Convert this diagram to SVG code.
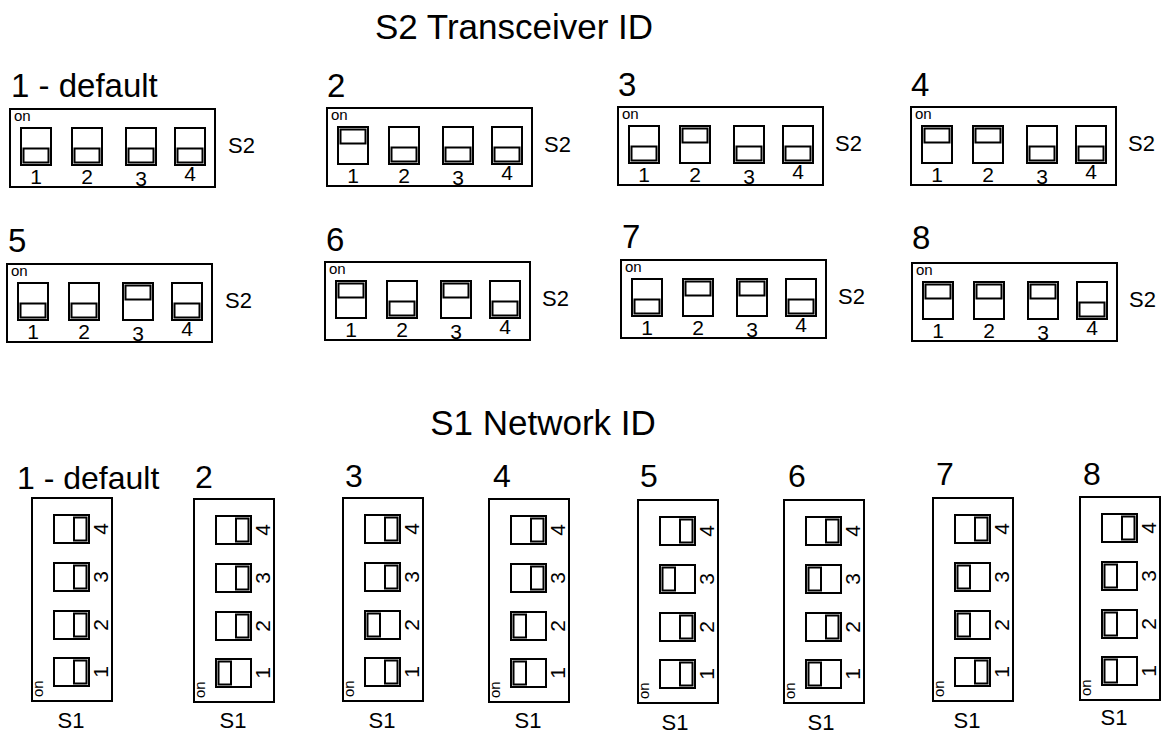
<svg xmlns="http://www.w3.org/2000/svg" xmlns:xlink="http://www.w3.org/1999/xlink" width="1170" height="736" viewBox="0 0 1170 736">
<style>
text{font-family:"Liberation Sans",Arial,Helvetica,sans-serif;fill:#000}
.title{font-size:35px}
.lbl{font-size:32px}
.lbl2{font-size:33px}
.sid{font-size:22px}
.dig{font-size:21px;text-anchor:middle}
.on{font-size:15px}
.box{fill:none;stroke:#000;stroke-width:2}
.sw{fill:#fff;stroke:#000;stroke-width:2}
.sl{fill:none;stroke:#000;stroke-width:2}
</style>
<defs>
<g id="s2off"><rect class="sw" width="30" height="37"/><rect class="sl" x="2.5" y="20.5" width="25" height="14"/></g>
<g id="s2on"><rect class="sw" width="30" height="37"/><rect class="sl" x="2.5" y="2.5" width="25" height="14"/></g>
<g id="s1off"><rect class="sw" width="35" height="28"/><rect class="sl" x="20" y="2.5" width="12.5" height="23"/></g>
<g id="s1on"><rect class="sw" width="35" height="28"/><rect class="sl" x="2.5" y="2.5" width="12.5" height="23"/></g>
<g id="s2dig">
<text class="dig" x="26" y="74.5">1</text><text class="dig" x="77" y="74.5">2</text><text class="dig" x="131" y="77">3</text><text class="dig" x="180" y="71.5">4</text>
<text class="on" x="4" y="12">on</text>
</g>
<g id="s1dig">
<text class="dig" transform="translate(75.5,31) rotate(-90)">4</text>
<text class="dig" transform="translate(75.5,79) rotate(-90)">3</text>
<text class="dig" transform="translate(75.5,127) rotate(-90)">2</text>
<text class="dig" transform="translate(75.5,174) rotate(-90)">1</text>
<text class="on" transform="translate(11,199) rotate(-90)">on</text>
</g>
</defs>

<text id="title-s2" class="title" x="514" y="39" text-anchor="middle">S2 Transceiver ID</text>
<text id="title-s1" class="title" x="543" y="435" text-anchor="middle">S1 Network ID</text>

<g id="connectors"/>

<!-- S2 panels -->
<g id="s2-p1" transform="translate(10,109)">
<text class="lbl2" x="1" y="-12">1 - default</text>
<rect class="box" width="205" height="78"/>
<use href="#s2off" x="11" y="19"/><use href="#s2off" x="62" y="19"/><use href="#s2off" x="116" y="19"/><use href="#s2off" x="165" y="19"/>
<use href="#s2dig"/>
<text class="sid" x="218" y="44">S2</text>
</g>
<g id="s2-p2" transform="translate(327,108)">
<text class="lbl2" x="0" y="-11">2</text>
<rect class="box" width="205" height="78"/>
<use href="#s2on" x="11" y="19"/><use href="#s2off" x="62" y="19"/><use href="#s2off" x="116" y="19"/><use href="#s2off" x="165" y="19"/>
<use href="#s2dig"/>
<text class="sid" x="217" y="44">S2</text>
</g>
<g id="s2-p3" transform="translate(618,107)">
<text class="lbl2" x="0" y="-11">3</text>
<rect class="box" width="205" height="78"/>
<use href="#s2off" x="11" y="19"/><use href="#s2on" x="62" y="19"/><use href="#s2off" x="116" y="19"/><use href="#s2off" x="165" y="19"/>
<use href="#s2dig"/>
<text class="sid" x="217" y="44">S2</text>
</g>
<g id="s2-p4" transform="translate(911,107)">
<text class="lbl2" x="0" y="-11">4</text>
<rect class="box" width="205" height="78"/>
<use href="#s2on" x="11" y="19"/><use href="#s2on" x="62" y="19"/><use href="#s2off" x="116" y="19"/><use href="#s2off" x="165" y="19"/>
<use href="#s2dig"/>
<text class="sid" x="217" y="44">S2</text>
</g>
<g id="s2-p5" transform="translate(7,264)">
<text class="lbl2" x="1" y="-12">5</text>
<rect class="box" width="205" height="78"/>
<use href="#s2off" x="11" y="19"/><use href="#s2off" x="62" y="19"/><use href="#s2on" x="116" y="19"/><use href="#s2off" x="165" y="19"/>
<use href="#s2dig"/>
<text class="sid" x="218" y="44">S2</text>
</g>
<g id="s2-p6" transform="translate(325,262)">
<text class="lbl2" x="1" y="-11">6</text>
<rect class="box" width="205" height="78"/>
<use href="#s2on" x="11" y="19"/><use href="#s2off" x="62" y="19"/><use href="#s2on" x="116" y="19"/><use href="#s2off" x="165" y="19"/>
<use href="#s2dig"/>
<text class="sid" x="217" y="44">S2</text>
</g>
<g id="s2-p7" transform="translate(621,260)">
<text class="lbl2" x="1" y="-12">7</text>
<rect class="box" width="205" height="78"/>
<use href="#s2off" x="11" y="19"/><use href="#s2on" x="62" y="19"/><use href="#s2on" x="116" y="19"/><use href="#s2off" x="165" y="19"/>
<use href="#s2dig"/>
<text class="sid" x="217" y="44">S2</text>
</g>
<g id="s2-p8" transform="translate(912,263)">
<text class="lbl2" x="0" y="-14">8</text>
<rect class="box" width="205" height="78"/>
<use href="#s2on" x="11" y="19"/><use href="#s2on" x="62" y="19"/><use href="#s2on" x="116" y="19"/><use href="#s2off" x="165" y="19"/>
<use href="#s2dig"/>
<text class="sid" x="217" y="44">S2</text>
</g>

<!-- S1 panels -->
<g id="s1-p1" transform="translate(32,498)">
<text class="lbl" x="-15" y="-9">1 - default</text>
<rect class="box" width="80" height="203"/>
<use href="#s1off" x="22" y="17"/><use href="#s1off" x="22" y="65"/><use href="#s1off" x="22" y="113"/><use href="#s1off" x="22" y="160"/>
<use href="#s1dig"/>
<text class="sid" x="39" y="230" text-anchor="middle">S1</text>
</g>
<g id="s1-p2" transform="translate(194,499)">
<text class="lbl" x="1" y="-11">2</text>
<rect class="box" width="80" height="203"/>
<use href="#s1off" x="22" y="17"/><use href="#s1off" x="22" y="65"/><use href="#s1off" x="22" y="113"/><use href="#s1on" x="22" y="160"/>
<use href="#s1dig"/>
<text class="sid" x="39" y="229" text-anchor="middle">S1</text>
</g>
<g id="s1-p3" transform="translate(343,498)">
<text class="lbl" x="2" y="-11">3</text>
<rect class="box" width="80" height="203"/>
<use href="#s1off" x="22" y="17"/><use href="#s1off" x="22" y="65"/><use href="#s1on" x="22" y="113"/><use href="#s1off" x="22" y="160"/>
<use href="#s1dig"/>
<text class="sid" x="39" y="230" text-anchor="middle">S1</text>
</g>
<g id="s1-p4" transform="translate(489,499)">
<text class="lbl" x="4" y="-12">4</text>
<rect class="box" width="80" height="203"/>
<use href="#s1off" x="22" y="17"/><use href="#s1off" x="22" y="65"/><use href="#s1on" x="22" y="113"/><use href="#s1on" x="22" y="160"/>
<use href="#s1dig"/>
<text class="sid" x="39" y="229" text-anchor="middle">S1</text>
</g>
<g id="s1-p5" transform="translate(638,500)">
<text class="lbl" x="2" y="-13">5</text>
<rect class="box" width="80" height="203"/>
<use href="#s1off" x="22" y="17"/><use href="#s1on" x="22" y="65"/><use href="#s1off" x="22" y="113"/><use href="#s1off" x="22" y="160"/>
<use href="#s1dig"/>
<text class="sid" x="37" y="230" text-anchor="middle">S1</text>
</g>
<g id="s1-p6" transform="translate(784,500)">
<text class="lbl" x="4" y="-13">6</text>
<rect class="box" width="80" height="203"/>
<use href="#s1off" x="22" y="17"/><use href="#s1on" x="22" y="65"/><use href="#s1off" x="22" y="113"/><use href="#s1on" x="22" y="160"/>
<use href="#s1dig"/>
<text class="sid" x="37" y="230" text-anchor="middle">S1</text>
</g>
<g id="s1-p7" transform="translate(933,498)">
<text class="lbl" x="3" y="-13">7</text>
<rect class="box" width="80" height="203"/>
<use href="#s1off" x="22" y="17"/><use href="#s1on" x="22" y="65"/><use href="#s1on" x="22" y="113"/><use href="#s1off" x="22" y="160"/>
<use href="#s1dig"/>
<text class="sid" x="34" y="230" text-anchor="middle">S1</text>
</g>
<g id="s1-p8" transform="translate(1080,497)">
<text class="lbl" x="3" y="-12">8</text>
<rect class="box" width="80" height="203"/>
<use href="#s1off" x="22" y="17"/><use href="#s1on" x="22" y="65"/><use href="#s1on" x="22" y="113"/><use href="#s1on" x="22" y="160"/>
<use href="#s1dig"/>
<text class="sid" x="34" y="228" text-anchor="middle">S1</text>
</g>
</svg>
